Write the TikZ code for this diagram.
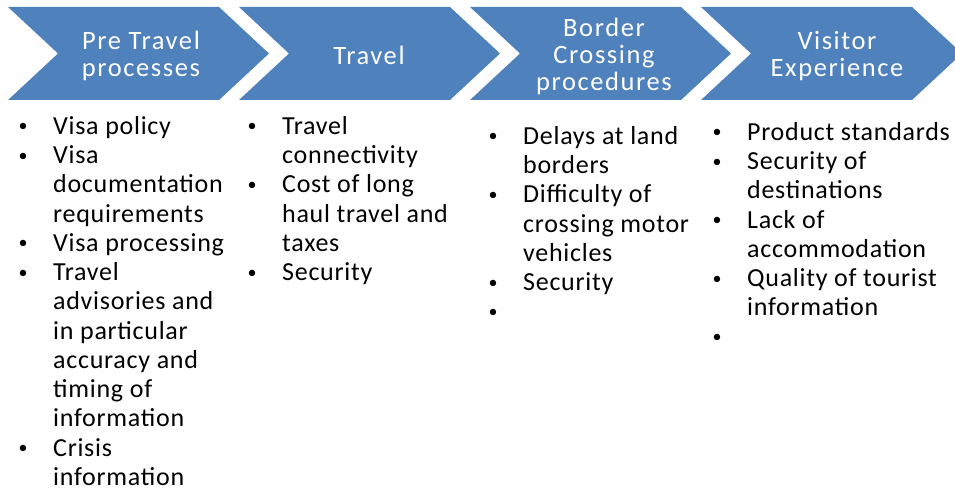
\documentclass[tikz,border=0pt]{standalone}
\usepackage{fontspec}
\setmainfont{Carlito}
\usetikzlibrary{positioning}

\definecolor{stageblue}{RGB}{79,129,189}

% small bullet hung 30pt left of the item text
\newcommand{\itm}{\llap{\makebox[60pt]{\raisebox{2.4pt}{\fontsize{18}{18}\selectfont\textbullet}}}}

\tikzset{
  stage/.style={text=white, align=center, inner sep=0pt,
    font=\fontsize{26.5}{27}\selectfont\addfontfeature{LetterSpace=6}},
  issues/.style={text=black, align=left, anchor=north west, inner sep=0pt,
    font=\fontsize{26}{29.25}\selectfont\addfontfeature{LetterSpace=2.8}}
}

\begin{document}
\begin{tikzpicture}[x=1pt,y=-1pt]
\useasboundingbox (0,0) rectangle (955,489);

% chevrons
\foreach \x in {8,239,470,701} {
  \fill[stageblue] (\x,7) -- ++(211,0) -- ++(50,46.5) -- ++(-50,46.5)
    -- ++(-211,0) -- ++(50,-46.5) -- cycle;
}

% stage titles
\node[stage, name=pretravel] at (141,56) {Pre Travel\\processes};
\node[stage, name=travel] at (369,55) {Travel};
\node[stage, name=border] at (604,56) {Border\\Crossing\\procedures};
\node[stage, name=visitor] at (837,56) {Visitor\\Experience};

% issues under each stage
\node[issues, name=pretravel_list] at (53,116) {%
\itm Visa policy\\
\itm Visa\\
documentation\\
requirements\\
\itm Visa processing\\
\itm Travel\\
advisories and\\
in particular\\
accuracy and\\
timing of\\
information\\
\itm Crisis\\
information};

\node[issues, name=travel_list] at (282,116) {%
\itm Travel\\
connectivity\\
\itm Cost of long\\
haul travel and\\
taxes\\
\itm Security};

\node[issues, name=border_list] at (523,126) {%
\itm Delays at land\\
borders\\
\itm Difficulty of\\
crossing motor\\
vehicles\\
\itm Security\\
\itm};

\node[issues, name=visitor_list] at (747,122) {%
\itm Product standards\\
\itm Security of\\
destinations\\
\itm Lack of\\
accommodation\\
\itm Quality of tourist\\
information\\
\itm};
\end{tikzpicture}
\end{document}
